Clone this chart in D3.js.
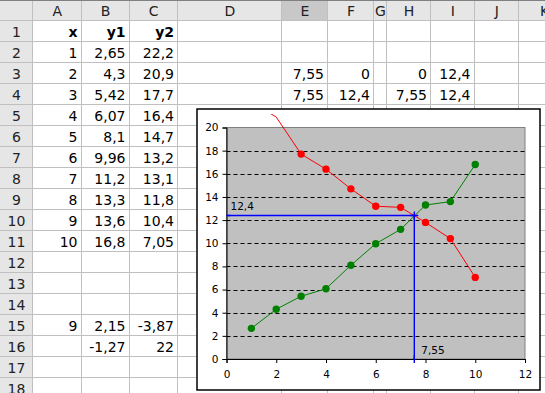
<!DOCTYPE html>
<html><head><meta charset="utf-8">
<script src="https://cdn.jsdelivr.net/npm/d3@7"></script>
<style>body{margin:0;background:#fff;overflow:hidden} svg{display:block}</style>
</head><body>
<svg id="c" width="545" height="393"></svg>
<script>
// ---------- data ----------
const colLetters = ["A","B","C","D","E","F","G","H","I","J","K"];
const headerLabels = ["x","y1","y2"];
const xValues  = [1,2,3,4,5,6,7,8,9,10];
const y1Values = [2.65,4.3,5.42,6.07,8.1,9.96,11.2,13.3,13.6,16.8];
const y2Values = [22.2,20.9,17.7,16.4,14.7,13.2,13.1,11.8,10.4,7.05];
const vertX  = [7.55,7.55];
const vertY  = [0,12.4];
const horizX = [0,7.55];
const horizY = [12.4,12.4];
const row15 = [9,2.15,-3.87];
const row16 = [null,-1.27,22];
const xTicks = [0,2,4,6,8,10,12];
const yTicks = [0,2,4,6,8,10,12,14,16,18,20];

// ---------- layout ----------
const W = 545, H = 393;
const colEdges = [33,81.5,129.5,178,282,328,374,387,431,474.5,519,570];
const rowH = 21, headH = 21, nRows = 18;
const selectedCol = 4; // E
const fmt = v => String(v).replace(".", ",");
const cellFont = "DejaVu Sans, sans-serif";

const svg = d3.select("#c");
svg.append("rect").attr("width",W).attr("height",H).attr("fill","#fff");

// headers
svg.append("rect").attr("x",0).attr("y",0).attr("width",W).attr("height",headH).attr("fill","#e6e6e6");
svg.append("rect").attr("x",0).attr("y",0).attr("width",colEdges[0]).attr("height",H).attr("fill","#e6e6e6");
svg.append("rect").attr("x",colEdges[selectedCol]).attr("y",0)
   .attr("width",colEdges[selectedCol+1]-colEdges[selectedCol]).attr("height",headH).attr("fill","#c8c8c8");

const grid = svg.append("g").attr("stroke","#c0c0c0").attr("stroke-width",1);
colEdges.forEach(x => grid.append("line").attr("x1",Math.round(x)-0.5).attr("x2",Math.round(x)-0.5).attr("y1",0).attr("y2",H));
for (let r = 0; r <= nRows; r++) {
  const y = headH + r*rowH - 0.5;
  grid.append("line").attr("x1",0).attr("x2",W).attr("y1",y).attr("y2",y);
}
svg.append("line").attr("x1",0).attr("x2",W).attr("y1",0.5).attr("y2",0.5).attr("stroke","#808080");

// header text
colLetters.forEach((c,i) => {
  svg.append("text").attr("x",(colEdges[i]+colEdges[i+1])/2).attr("y",headH-5)
    .attr("text-anchor","middle").attr("font-family",cellFont).attr("font-size",14).attr("fill","#222").text(c);
});
for (let r = 1; r <= nRows; r++) {
  svg.append("text").attr("x",colEdges[0]/2).attr("y",headH + r*rowH - 5)
    .attr("text-anchor","middle").attr("font-family",cellFont).attr("font-size",14).attr("fill","#222").text(r);
}

function cell(col, row, v, bold) {
  if (v === null || v === undefined) return;
  svg.append("text").attr("x",colEdges[col+1]-4).attr("y",headH + row*rowH - 5)
    .attr("text-anchor","end").attr("font-family",cellFont).attr("font-size",14)
    .attr("font-weight",bold?"bold":"normal").attr("fill","#000").text(typeof v === "number" ? fmt(v) : v);
}
headerLabels.forEach((h,i) => cell(i,1,h,true));
xValues.forEach((x,i) => { cell(0,i+2,x); cell(1,i+2,y1Values[i]); cell(2,i+2,y2Values[i]); });
[0,1].forEach(i => { cell(4,3+i,vertX[i]); cell(5,3+i,vertY[i]); cell(7,3+i,horizX[i]); cell(8,3+i,horizY[i]); });
row15.forEach((v,i) => cell(i,15,v));
row16.forEach((v,i) => cell(i,16,v));

// ---------- chart ----------
const box = {x:197, y:109, w:343, h:281};
const plot = {l:226.5, r:525, t:127.5, b:359};
const ch = svg.append("g");
ch.append("rect").attr("x",box.x).attr("y",box.y).attr("width",box.w).attr("height",box.h)
  .attr("fill","#fff").attr("stroke","#000").attr("stroke-width",1.5);

const xs = d3.scaleLinear().domain([0,12]).range([plot.l, plot.r]);
const ys = d3.scaleLinear().domain([0,20]).range([plot.b, plot.t]);

ch.append("rect").attr("x",plot.l).attr("y",plot.t).attr("width",plot.r-plot.l).attr("height",plot.b-plot.t)
  .attr("fill","#c0c0c0").attr("stroke","#808080");

const defs = svg.append("defs");
defs.append("clipPath").attr("id","boxClip").append("rect")
  .attr("x",box.x+2).attr("y",box.y+5).attr("width",box.w-4).attr("height",box.h-7);
defs.append("clipPath").attr("id","plotClip").append("rect")
  .attr("x",plot.l).attr("y",plot.t-1).attr("width",plot.r-plot.l+1).attr("height",plot.b-plot.t+2);

ch.append("g").selectAll("line").data(yTicks.filter(t => t>0 && t<20)).join("line")
  .attr("x1",plot.l).attr("x2",plot.r).attr("y1",d=>Math.round(ys(d))+0.5).attr("y2",d=>Math.round(ys(d))+0.5)
  .attr("stroke","#000").attr("stroke-dasharray","4,3");

const ax = ch.append("g").attr("transform",`translate(0,${plot.b})`)
  .call(d3.axisBottom(xs).tickValues(xTicks).tickSize(4).tickPadding(8).tickFormat(d3.format("d")));
const ay = ch.append("g").attr("transform",`translate(${plot.l},0)`)
  .call(d3.axisLeft(ys).tickValues(yTicks).tickSize(4).tickPadding(4).tickFormat(d3.format("d")));
[ax,ay].forEach(a => {
  a.selectAll("text").attr("font-family",cellFont).attr("font-size",10.5).attr("fill","#000");
  a.selectAll("line,path").attr("stroke","#000");
});

const line = d3.line().x(d=>xs(d[0])).y(d=>ys(d[1]));
const series = [
  {xv:xValues, yv:y2Values, color:"#ff0000"},
  {xv:xValues, yv:y1Values, color:"#008000"}
];
series.forEach(s => {
  const pts = s.xv.map((x,i)=>[x,s.yv[i]]);
  ch.append("path").datum(pts).attr("d",line).attr("fill","none").attr("stroke",s.color)
    .attr("stroke-width",1).attr("clip-path","url(#boxClip)");
  ch.append("g").attr("clip-path","url(#plotClip)").selectAll("circle").data(pts).join("circle")
    .attr("cx",d=>xs(d[0])).attr("cy",d=>ys(d[1])).attr("r",3.7).attr("fill",s.color);
});

// blue guide lines
const vPts = vertX.map((x,i)=>[x,vertY[i]]);
const hPts = horizX.map((x,i)=>[x,horizY[i]]);
ch.append("path").datum(vPts).attr("d",line).attr("fill","none").attr("stroke","#0000ff").attr("stroke-width",1.4);
ch.append("g").selectAll("line").data(vPts).join("line")
  .attr("x1",d=>xs(d[0])).attr("x2",d=>xs(d[0])).attr("y1",d=>ys(d[1])-4).attr("y2",d=>ys(d[1])+4)
  .attr("stroke","#0000ff").attr("stroke-width",1.4);
const hg = ch.append("g").attr("clip-path","url(#plotClip)");
hg.append("path").datum(hPts).attr("d",line).attr("fill","none").attr("stroke","#0000ff").attr("stroke-width",1.4);
hg.selectAll("line").data(hPts).join("line")
  .attr("x1",d=>xs(d[0])-4).attr("x2",d=>xs(d[0])+4).attr("y1",d=>ys(d[1])).attr("y2",d=>ys(d[1]))
  .attr("stroke","#0000ff").attr("stroke-width",1.4);

ch.append("text").attr("x",xs(horizX[0])+4).attr("y",ys(horizY[0])-5)
  .attr("font-family",cellFont).attr("font-size",10.5).attr("fill","#000").text(fmt(horizY[0]));
ch.append("text").attr("x",xs(vertX[0])+7).attr("y",ys(vertY[0])-5)
  .attr("font-family",cellFont).attr("font-size",10.5).attr("fill","#000").text(fmt(vertX[0]));
</script>
</body></html>
